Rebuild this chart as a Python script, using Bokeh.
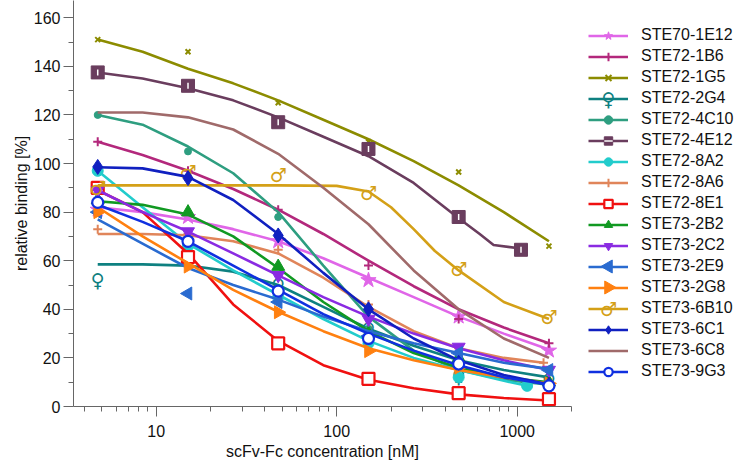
import math
from bokeh.plotting import figure
from bokeh.layouts import row
from bokeh.models import (FixedTicker, BasicTickFormatter, Legend, LegendItem,
                          Range1d, ColumnDataSource)
from bokeh.core.properties import value
from bokeh.embed import file_html
from bokeh.resources import INLINE

# ---------------- data ----------------
conc = [4.74, 15, 47.4, 150, 474, 1500]
fit_x = [4.74, 8.4, 15, 26.7, 47.4, 84.3, 150, 267, 474, 843, 1500]

names = ["STE70-1E12", "STE72-1B6", "STE72-1G5", "STE72-2G4", "STE72-4C10",
         "STE72-4E12", "STE72-8A2", "STE72-8A6", "STE72-8E1", "STE73-2B2",
         "STE73-2C2", "STE73-2E9", "STE73-2G8", "STE73-6B10", "STE73-6C1",
         "STE73-6C8", "STE73-9G3"]

# measured points
pts_1E12 = [81, 78, 68, 52, 37, 23]
pts_1B6 = [109, 97, 81, 58, 36, 26]
pts_1G5 = [151, 146, 125, 109, 96.5, 66]
pts_2G4 = [52, 66, 50, 32, 12.5, 11]
pts_4C10 = [120, 105, 78, 32, 16, 10]
pts_4E12 = [137.5, 132, 117, 106, 78, 64.5]
pts_8A2 = [97, 66, 45, 26, 12, 8.5]
pts_8A6 = [73, 71, 64.5, 42, 24, 18]
pts_8E1 = [90, 61.5, 26, 11.4, 5.5, 3]
pts_2B2 = [85, 80, 57.6, 30, 20, 10]
pts_2C2 = [89, 72, 54, 36, 24.5, 15]
pts_2E9 = [80, 46.5, 43, 29, 22, 15]
pts_2G8 = [80, 57.6, 38.8, 22.8, 16, 9.5]
pts_6B10 = [90, 96.5, 95.3, 88, 56.4, 36.7]
pts_6C1 = [98.6, 94, 70.4, 40, 18, 9]
pts_6C8 = [120, 121, 104.4, 75.6, 40, 20.4]
pts_9G3 = [84, 68, 47.5, 28, 17.5, 8.5]

conc_4E12 = [4.74, 15, 47.4, 150, 474, 1050]
conc_8A2 = [4.74, 15, 47.4, 150, 474, 1135]
conc_8A6 = [4.74, 15, 47.4, 150, 474, 1400]

# fitted curves
fit_1E12 = [82, 80, 77, 73, 68, 61, 53, 45, 37, 30, 23.5]
fit_1B6 = [109, 103.5, 97, 89.5, 81, 71, 60, 49.5, 40, 32.5, 26]
fit_1G5 = [151, 146, 139, 133, 126, 118, 110, 101, 91, 80, 68]
fit_2G4 = [58.5, 58.5, 58, 55.5, 50, 41, 32, 25, 19, 15, 12]
fit_4C10 = [120, 116, 107, 96, 80, 58, 37, 23, 15, 11, 9]
fit_x_4E12 = [4.74, 8.4, 15, 26.7, 47.4, 84.3, 150, 267, 474, 620, 740, 1050]
fit_4E12 = [137.5, 135, 131, 126, 119, 111, 103, 92, 77.5, 71, 66.5, 65]
fit_x_8A2 = [4.74, 8.4, 15, 26.7, 47.4, 84.3, 150, 267, 474, 800, 1135]
fit_8A2 = [97, 82, 67, 56, 46, 36, 27, 20, 15, 11, 8.5]
fit_x_8A6 = [4.74, 8.4, 15, 26.7, 47.4, 84.3, 150, 267, 474, 843, 1400]
fit_8A6 = [71, 71, 70.5, 68, 63, 53, 41, 31, 24, 20, 18]
fit_8E1 = [89, 80, 63, 42, 27, 17, 11, 7.5, 5, 3.5, 2.5]
fit_2B2 = [84.5, 83, 79, 70, 57, 43, 31, 22, 16, 12, 10]
fit_2C2 = [89, 80, 72, 63, 54, 45, 37, 30, 24, 19, 15]
fit_2E9 = [77, 67, 57, 50, 44, 37, 31, 26, 22, 18, 15.5]
fit_2G8 = [82, 70, 59, 48, 39, 31, 24, 19, 15, 12, 9.5]
fit_x_6B10 = [4.74, 15, 47.4, 100, 150, 200, 267, 350, 474, 843, 1500]
fit_6B10 = [91, 91, 91, 90.8, 88.5, 82, 73, 64, 56, 43, 36]
fit_6C1 = [98.5, 98, 94.5, 85, 71, 55, 40, 28, 19, 13, 9]
fit_6C8 = [121, 121, 119, 114, 104, 90, 75, 56, 40, 28, 20]
fit_9G3 = [83, 76, 68, 58, 48, 38, 30, 23, 17, 12, 9]

series = [
    (names[0], conc, pts_1E12, fit_x, fit_1E12),
    (names[1], conc, pts_1B6, fit_x, fit_1B6),
    (names[2], conc, pts_1G5, fit_x, fit_1G5),
    (names[3], conc, pts_2G4, fit_x, fit_2G4),
    (names[4], conc, pts_4C10, fit_x, fit_4C10),
    (names[5], conc_4E12, pts_4E12, fit_x_4E12, fit_4E12),
    (names[6], conc_8A2, pts_8A2, fit_x_8A2, fit_8A2),
    (names[7], conc_8A6, pts_8A6, fit_x_8A6, fit_8A6),
    (names[8], conc, pts_8E1, fit_x, fit_8E1),
    (names[9], conc, pts_2B2, fit_x, fit_2B2),
    (names[10], conc, pts_2C2, fit_x, fit_2C2),
    (names[11], conc, pts_2E9, fit_x, fit_2E9),
    (names[12], conc, pts_2G8, fit_x, fit_2G8),
    (names[13], conc, pts_6B10, fit_x_6B10, fit_6B10),
    (names[14], conc, pts_6C1, fit_x, fit_6C1),
    (names[15], conc, pts_6C8, fit_x, fit_6C8),
    (names[16], conc, pts_9G3, fit_x, fit_9G3),
]

# ---------------- styles ----------------
styles = {
    "STE70-1E12": ("#E066E8", "star", 16, "fill", 0),
    "STE72-1B6": ("#B3287C", "cross", 9, "line", 0),
    "STE72-1G5": ("#8C8C00", "x", 7, "line", 0),
    "STE72-2G4": ("#0E8080", "\u2640", 19, "text", 0),
    "STE72-4C10": ("#2E9E80", "circle", 7, "fill", 0),
    "STE72-4E12": ("#6A3D5E", "square", 13, "fill", 0),
    "STE72-8A2": ("#22CCCC", "circle", 11, "fill", 0),
    "STE72-8A6": ("#E0855A", "cross", 9, "line", 0),
    "STE72-8E1": ("#F01010", "square", 12, "open", 0),
    "STE73-2B2": ("#119922", "triangle", 13, "fill", 0),
    "STE73-2C2": ("#8A2BE2", "inverted_triangle", 13, "fill", 0),
    "STE73-2E9": ("#2A6BD0", "triangle", 13, "fill", math.pi / 2),
    "STE73-2G8": ("#FF8010", "triangle", 13, "fill", -math.pi / 2),
    "STE73-6B10": ("#D4A017", "\u2642", 19, "text", 0),
    "STE73-6C1": ("#1020C0", "diamond", 15, "fill", 0),
    "STE73-6C8": ("#A06A6A", "hexagon", 10, "open", 0),
    "STE73-9G3": ("#1030E0", "circle", 11, "open", 0),
}

FONT = "Liberation Sans"
TXT = "#111111"
H = 462
B_BOTTOM = 56          # bottom border shared by both figures of the row

p = figure(width=583, height=H, x_axis_type="log",
           x_range=Range1d(3.48, 2000), y_range=Range1d(0, 167.1),
           output_backend="svg", toolbar_location=None,
           min_border_left=73, min_border_right=12,
           min_border_top=0, min_border_bottom=B_BOTTOM)
p.outline_line_color = None
p.xgrid.visible = False
p.ygrid.visible = False

p.xaxis.ticker = FixedTicker(ticks=[10, 100, 1000],
                             minor_ticks=[4, 5, 6, 7, 8, 9, 20, 30, 40, 50, 60, 70, 80, 90,
                                          200, 300, 400, 500, 600, 700, 800, 900, 2000])
p.xaxis.formatter = BasicTickFormatter(use_scientific=False)
p.yaxis.ticker = FixedTicker(ticks=[0, 20, 40, 60, 80, 100, 120, 140, 160],
                             minor_ticks=[10, 30, 50, 70, 90, 110, 130, 150])
p.xaxis.axis_label = "scFv-Fc concentration [nM]"
p.yaxis.axis_label = "relative binding [%]"

for ax in (p.xaxis[0], p.yaxis[0]):
    ax.axis_line_color = "#666666"
    ax.major_tick_line_color = "#666666"
    ax.minor_tick_line_color = "#666666"
    ax.major_tick_out = 10
    ax.major_tick_in = 0
    ax.minor_tick_out = 5
    ax.minor_tick_in = 0
    ax.major_label_text_font = FONT
    ax.major_label_text_font_size = "16px"
    ax.major_label_text_color = TXT
    ax.axis_label_text_font = FONT
    ax.axis_label_text_font_size = "16px"
    ax.axis_label_text_font_style = "normal"
    ax.axis_label_text_color = TXT
p.xaxis.major_label_text_line_height = 0.75
p.xaxis.axis_label_text_line_height = 0.75
p.xaxis.major_label_standoff = 8
p.xaxis.axis_label_standoff = 3
p.yaxis.major_label_standoff = 3
p.yaxis.axis_label_standoff = 1

# legend panel: a separate figure so the legend is not clipped by the plot frame;
# its data units equal pixels (y counted from the top of the page)
FRAME_H = H - B_BOTTOM
lg = figure(width=154, height=H, x_range=Range1d(0, 154), y_range=Range1d(FRAME_H, 0),
            output_backend="svg", toolbar_location=None,
            min_border_left=0, min_border_right=0, min_border_top=0,
            min_border_bottom=B_BOTTOM)
lg.axis.visible = False
lg.xgrid.visible = False
lg.ygrid.visible = False
lg.outline_line_color = None


def add_series(fig, name, mx, my, fx, fy, legend_sample=False):
    color, marker, size, mode, angle = styles[name]
    line_r = fig.line(fx, fy, line_color=color, line_width=2.6, line_join="round")
    rends = [line_r]
    src = ColumnDataSource(dict(x=mx, y=my))
    if mode == "text":
        tr = fig.text(x="x", y="y", source=src, text=value(marker), text_color=color,
                      text_font=value("DejaVu Sans"), text_font_size=f"{size}px",
                      text_font_style="bold", text_align="center", text_baseline="middle")
        if not legend_sample:
            rends.append(tr)
    else:
        if mode == "fill":
            kw = dict(fill_color=color, line_color=color)
        elif mode == "open":
            kw = dict(fill_color="white", line_color=color, line_width=2.2)
        else:
            kw = dict(line_color=color, line_width=2)
        sr = fig.scatter(x="x", y="y", source=src, marker=marker, size=size, angle=angle, **kw)
        if not (legend_sample and angle != 0):
            rends.append(sr)
        if name == "STE72-4E12":
            ir = fig.scatter(x="x", y="y", source=src, marker="dash", size=6, angle=math.pi / 2,
                             line_color="white", line_width=1.5)
            rends.append(ir)
    return rends


LEG_X = 5
LEG_TOP = 24.5
ROW_H = 21
GLYPH_W = 40
n_items = len(names)

items = []
for i, (name, mx, my, fx, fy) in enumerate(series):
    add_series(p, name, mx, my, fx, fy)
    color, marker, size, mode, angle = styles[name]
    if mode == "text" or angle != 0:
        # markers the legend cannot draw itself sit on their legend row
        sx, sy = [LEG_X + GLYPH_W / 2], [LEG_TOP + ROW_H * (i + 0.5)]
    else:
        sx, sy = [-50], [-50]
    rends = add_series(lg, name, sx, sy, [-50, -40], [-50, -50], legend_sample=True)
    items.append(LegendItem(label=name, renderers=rends))

legend = Legend(items=items, location=(LEG_X, FRAME_H - LEG_TOP - ROW_H * n_items))
legend.label_text_font = FONT
legend.label_text_font_size = "16px"
legend.label_text_color = TXT
legend.glyph_width = GLYPH_W
legend.glyph_height = ROW_H
legend.label_height = ROW_H
legend.spacing = 0
legend.padding = 0
legend.margin = 0
legend.label_standoff = 13
legend.border_line_color = None
legend.background_fill_alpha = 0
lg.add_layout(legend)

layout = row(p, lg, spacing=0)
open("out.html", "w").write(file_html(layout, INLINE))
